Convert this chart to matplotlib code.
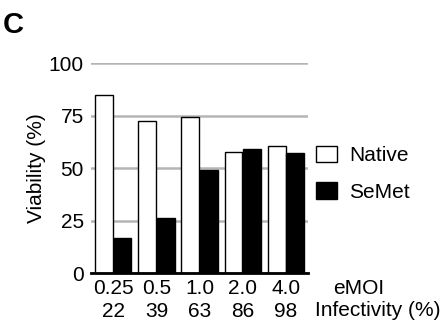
import matplotlib
matplotlib.use("Agg")
import matplotlib.pyplot as plt
import numpy as np

emoi = ["0.25", "0.5", "1.0", "2.0", "4.0"]
infectivity = ["22", "39", "63", "86", "98"]
native = [85.0, 72.7, 74.3, 57.9, 60.8]
semet = [16.8, 26.2, 49.2, 59.2, 57.3]
yticks = [0, 25, 50, 75, 100]

plt.rcParams['font.family'] = ['Liberation Sans', 'DejaVu Sans']
FS = 15

fig = plt.figure(figsize=(4.45, 3.2), dpi=100)
ax = fig.add_axes([0.204, 0.146, 0.489, 0.656])

x = np.arange(len(emoi))
w = 0.41
ax.bar(x - w/2 - 0.01, native, w, color='white', edgecolor='black', linewidth=1.0, label='Native', zorder=3)
ax.bar(x + w/2 + 0.01, semet, w, color='black', edgecolor='black', linewidth=1.0, label='SeMet', zorder=3)

ax.set_xlim(-0.52, 4.52)
ax.set_ylim(0, 100)
ax.set_yticks(yticks)
ax.set_yticklabels([str(v) for v in yticks], fontsize=FS)
ax.yaxis.grid(True, color='#b5b5b5', linewidth=1.8, zorder=0)
ax.set_axisbelow(True)
for s in ['left', 'right', 'top']:
    ax.spines[s].set_visible(False)
ax.spines['bottom'].set_linewidth(2)
ax.spines['bottom'].set_zorder(4)
ax.spines['bottom'].set_clip_on(False)
ax.tick_params(axis='both', length=0)
ax.tick_params(axis='y', pad=5)
ax.set_xticks(x)
ax.set_xticklabels([f"{a}\n{b}" for a, b in zip(emoi, infectivity)], fontsize=FS, linespacing=1.3)
ax.tick_params(axis='x', pad=4)

ax.set_ylabel("Viability (%)", fontsize=FS, labelpad=2)

fig.text(359/445, 1 - 289/320, "eMOI", fontsize=FS, ha='center', va='center')
fig.text(378/445, 1 - 311/320, "Infectivity (%)", fontsize=FS, ha='center', va='center')
fig.text(3/445, 1 - 25/320, "C", fontsize=21, fontweight='bold', ha='left', va='center')

leg = ax.legend(loc='center left', bbox_to_anchor=(1.035, 0.475), frameon=False, fontsize=FS,
                handlelength=1.0, handleheight=0.87, handletextpad=0.58, labelspacing=0.8,
                borderaxespad=0, borderpad=0)

fig.savefig("out.png", dpi=100)
